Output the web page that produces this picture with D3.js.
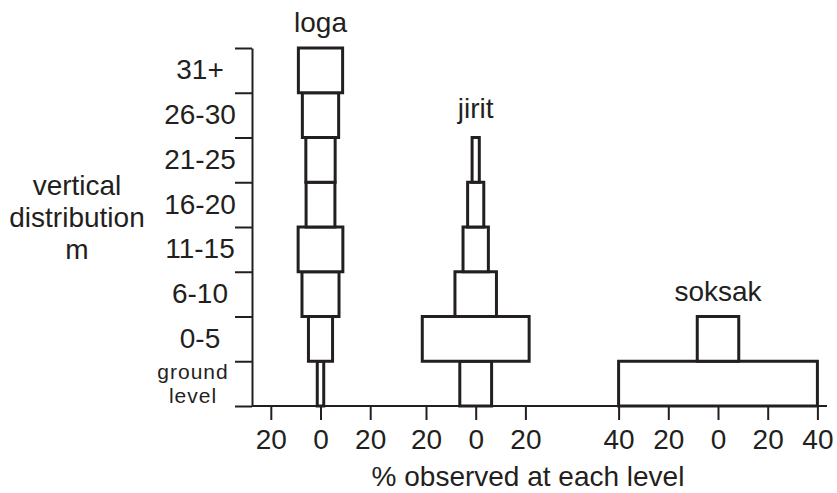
<!DOCTYPE html>
<html>
<head>
<meta charset="utf-8">
<script src="https://cdn.jsdelivr.net/npm/d3@7"></script>
<style>
	body { margin: 0; background: #fff; }
	svg text { font-family: "Liberation Sans", Arial, Helvetica, sans-serif; fill: #231f20; }
	.axis path, .axis line { stroke: #231f20; stroke-width: 2; }
	.axis text { font-size: 28px; }
	.box { fill: #fff; stroke: #231f20; stroke-width: 3; }
</style>
</head>
<body>
<svg id="chart"></svg>
<script>
// height classes, bottom to top
const levels = ["ground level", "0-5", "6-10", "11-15", "16-20", "21-25", "26-30", "31+"];

// % observed at each level (full width of the box), null = not observed
const logaPct   = [2.6, 9.7, 14.9, 18, 11.6, 11.8, 14.6, 17.8];
const jiritPct  = [12.8, 43, 16.7, 10.2, 6.5, 2.9, null, null];
const soksakPct = [80, 16.7, null, null, null, null, null, null];

const speciesNames = ["loga", "jirit", "soksak"];
const smallTicks = [-20, 0, 20];
const wideTicks = [-40, -20, 0, 20, 40];

const svgWidth = 837, svgHeight = 493;
const ink = "#231f20";

const svg = d3.select("#chart")
	.attr("width", svgWidth)
	.attr("height", svgHeight);

// vertical layout: plot area from top of 31+ to ground
const yTop = 48, yBottom = 406, xAxisX = 252;

const y = d3.scaleBand().domain(levels).range([yBottom, yTop]).padding(0);
const yEdge = d3.scaleLinear().domain([0, levels.length]).range([yBottom, yTop]);

// one panel per species, each centred on its own zero
const half = 49.7; // px for 20 %
const panels = [
	{name: speciesNames[0], data: logaPct,   center: 320.5, ticks: smallTicks, labelY: 32},
	{name: speciesNames[1], data: jiritPct,  center: 475.7, ticks: smallTicks, labelY: 118},
	{name: speciesNames[2], data: soksakPct, center: 718,   ticks: wideTicks,  labelY: 301}
];
panels.forEach(p => {
	p.x = d3.scaleLinear().domain([-20, 20]).range([p.center - half, p.center + half]);
});

// y axis with ticks on class boundaries
svg.append("g")
	.attr("class", "axis")
	.attr("transform", "translate(" + xAxisX + ",0)")
	.call(d3.axisLeft(yEdge).tickValues(d3.range(levels.length + 1)).tickFormat("").tickSize(17).tickSizeOuter(0));

// level labels
svg.append("g")
	.selectAll("text")
	.data(levels.slice(1))
	.enter().append("text")
	.attr("x", 200)
	.attr("y", d => y(d) + y.bandwidth() / 2 + 9)
	.attr("text-anchor", "middle")
	.style("font-size", "28px")
	.text(d => d);

// ground level label, two lines in smaller type
levels[0].split(" ").forEach((t, i) => {
	svg.append("text")
		.attr("x", 193)
		.attr("y", 379 + i * 24)
		.attr("text-anchor", "middle")
		.style("font-size", "21px")
		.style("letter-spacing", "1px")
		.text(t);
});

// y axis title
const yTitle = svg.append("text")
	.attr("text-anchor", "middle")
	.style("font-size", "28px");
["vertical", "distribution", "m"].forEach((t, i) => {
	yTitle.append("tspan").attr("x", 77).attr("y", 195 + i * 32).text(t);
});

// baseline
svg.append("line")
	.attr("x1", xAxisX).attr("x2", 827)
	.attr("y1", yBottom).attr("y2", yBottom)
	.attr("stroke", ink).attr("stroke-width", 2);

panels.forEach(p => {
	// x axis ticks for panel
	const ax = svg.append("g")
		.attr("class", "axis")
		.attr("transform", "translate(0," + yBottom + ")")
		.call(d3.axisBottom(p.x).tickValues(p.ticks).tickFormat(d => Math.abs(d)).tickSize(14).tickPadding(9));
	ax.select(".domain").remove();

	// boxes
	svg.append("g")
		.selectAll(".box")
		.data(p.data.map((v, i) => ({level: levels[i], v: v})).filter(d => d.v != null))
		.enter().append("rect")
		.attr("class", "box")
		.attr("x", d => p.x(-d.v / 2))
		.attr("width", d => p.x(d.v / 2) - p.x(-d.v / 2))
		.attr("y", d => y(d.level))
		.attr("height", y.bandwidth());

	// species label
	svg.append("text")
		.attr("x", p.center)
		.attr("y", p.labelY)
		.attr("text-anchor", "middle")
		.style("font-size", "28px")
		.text(p.name);
});

// x axis title
svg.append("text")
	.attr("x", 528)
	.attr("y", 486)
	.attr("text-anchor", "middle")
	.style("font-size", "28px")
	.text("% observed at each level");
</script>
</body>
</html>
